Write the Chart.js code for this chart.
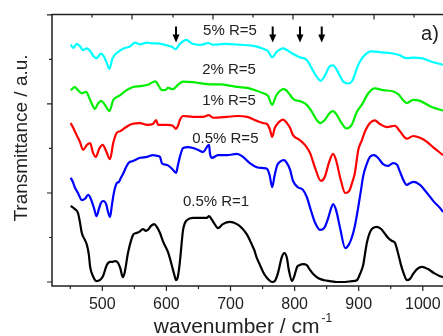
<!DOCTYPE html>
<html>
<head>
<meta charset="utf-8">
<script src="https://cdn.jsdelivr.net/npm/chart.js@4.4.1/dist/chart.umd.min.js"></script>
<style>
  html, body { margin: 0; padding: 0; background: #fff; }
  canvas { display: block; }
</style>
</head>
<body>
<canvas id="chart" width="443" height="336"></canvas>
<script>
// IR spectra, wavenumber (cm-1) vs offset transmittance (a.u.)

const blackX = [450.7,457,462,465,468,473,476,479,481,485.5,491,496,501,507,512,515,520,524.5,528,532,535,540,545,548,553,557,563.5,568,571,576,581,585,590,595,598,602.5,607,612,615,618,621,626,632,641.5,652,663,666.5,670,674,680.5,688,699,710,718,726,732,737,741,746,751,757,765,769,774,780,784,788,791,796,799,804,808,813,819,824,829,836.5,846,855,866,879,889.5,897,902,907,910,913,917.6,922,928.5,935,941,946,952,956.6,961,966,971,975,980,985,991,999,1008,1017.5,1027,1031.5];
const blackY = [1.71,1.64,1.55,1.35,1.10,0.94,0.83,0.61,0.34,0.13,0.02,0.04,0.13,0.38,0.45,0.45,0.47,0.43,0.31,0.11,0.22,0.65,0.94,1.06,1.10,1.12,1.19,1.15,1.17,1.26,1.30,1.24,1.10,0.90,0.81,0.67,0.45,0.18,0.04,0.13,0.45,1.17,1.39,1.44,1.44,1.44,1.48,1.42,1.33,1.21,1.30,1.35,1.30,1.21,1.06,0.88,0.72,0.54,0.38,0.22,0.09,0.00,0.02,0.20,0.56,0.65,0.54,0.27,0.02,0.11,0.34,0.38,0.40,0.38,0.27,0.18,0.09,0.04,0.02,0.00,0.00,0.02,0.04,0.18,0.38,0.65,0.90,1.12,1.21,1.24,1.19,1.08,0.99,0.92,0.88,0.67,0.38,0.16,0.04,0.07,0.18,0.29,0.34,0.29,0.20,0.13,0.11];

const blueX = [450.7,454,457,462,468,473,478,482,487,491,495,498,501.6,506,509,512,515,518,522.5,526,529,533,537,540.6,548,559,570,579,587,590,593,601,609,615,618,621,626,634,641.5,649,657,666.5,668,671,680.5,694.5,710,719.5,730,741,751,757,761,765,768.6,772.5,777,783.5,788,793,797.5,805,813,819,825.6,832,839.6,846,852,857,860,864.6,871,879,885,889.5,894,899.4,903.6,907,912.5,917.6,924,930,938,946,953.5,960,964,971,975,980,986,995.6,1006.5,1017.5,1027,1031.5];
const blueY = [2.34,2.25,2.13,2.00,1.84,1.87,1.96,1.87,1.66,1.48,1.66,1.78,1.82,1.75,1.57,1.46,1.73,2.00,2.22,2.25,2.34,2.45,2.58,2.67,2.72,2.79,2.81,2.85,2.83,2.81,2.67,2.63,2.54,2.45,2.63,2.81,3.01,3.03,3.01,2.97,2.92,3.08,2.88,2.79,2.85,2.85,2.88,2.81,2.67,2.58,2.56,2.54,2.40,2.13,2.38,2.61,2.70,2.74,2.67,2.52,2.27,2.13,2.07,1.91,1.60,1.33,1.17,1.21,1.42,1.66,1.75,1.62,1.21,0.76,0.85,1.01,1.26,1.69,2.07,2.38,2.65,2.81,2.85,2.79,2.65,2.61,2.67,2.63,2.49,2.25,2.18,2.22,2.25,2.18,2.00,1.80,1.66,1.57];

const redX = [450.7,454,460,465,470,476,481,485.5,490,495,500.6,506,512,517,522.5,528,535,546,559,570,579,584,587,601,610,615,618,621,626,641.5,657,666.5,673,694.5,710,726,741,751,757,761.6,765,769,774,782,788,793,797.5,808,816,824,832,841,847,854,860,864.6,872,879,885,889.5,894,899.4,905,911,917.6,925,933,944,956.6,964,975,985,995.6,1006.5,1016,1031.5];
const redY = [3.57,3.48,3.30,3.15,2.97,3.08,3.12,2.90,2.81,2.99,3.08,2.94,2.76,3.12,3.35,3.39,3.46,3.55,3.57,3.53,3.55,3.64,3.53,3.53,3.51,3.44,3.51,3.64,3.73,3.71,3.71,3.75,3.69,3.71,3.73,3.71,3.62,3.57,3.55,3.42,3.26,3.46,3.57,3.65,3.57,3.46,3.30,3.19,3.08,2.90,2.56,2.27,2.36,2.70,2.88,2.74,2.29,2.00,2.04,2.22,2.45,2.97,3.19,3.42,3.57,3.63,3.55,3.48,3.51,3.39,3.22,3.28,3.24,3.15,3.03,2.85];

const greenX = [450.7,457,462,468,474.6,481,488.6,493,498,504,511,517,523,528,538,548,559,571,583,587,593,598,602.5,610,618,626,641.5,652,668,683.6,707,726,738,751,758.5,765,771,777,782.7,788,793,798,811,819,826.7,834.5,840.4,847,855,860,866,872,881,889,897,904.7,915,925,938,954,963,969,975,985,995.6,1014,1031.5];
const greenY = [4.31,4.38,4.31,4.24,4.27,4.09,3.89,4.00,4.07,3.98,3.84,4.09,4.16,4.20,4.31,4.38,4.40,4.43,4.51,4.43,4.31,4.31,4.36,4.33,4.43,4.50,4.49,4.47,4.44,4.44,4.39,4.36,4.31,4.24,4.18,3.98,4.18,4.29,4.34,4.29,4.20,4.11,4.05,3.98,3.83,3.64,3.57,3.64,3.80,3.84,3.75,3.60,3.45,3.53,3.82,3.98,4.24,4.35,4.31,4.28,4.20,4.09,4.02,4.09,4.07,3.93,3.85];

const cyanX = [450.7,454.8,460,465,470,476,481,486,491,497.5,502.7,507,511,516,525,534,543,551,559,569,577.5,585,595,602.5,609,614,621,631,639.5,655,665,673,691,715,738,751,758.5,765,772,782,795.5,808,819,826.7,834.5,840.7,847,855,860,866,876,884,889.5,899.4,907,920,935,951.5,963,975,985,998,1014,1031.5];
const cyanY = [5.33,5.26,5.35,5.30,5.21,5.25,5.19,5.08,5.03,5.13,5.06,4.92,4.79,5.03,5.17,5.25,5.29,5.38,5.34,5.38,5.36,5.36,5.34,5.31,5.28,5.23,5.35,5.44,5.36,5.33,5.37,5.33,5.35,5.33,5.30,5.24,5.19,5.05,5.17,5.25,5.14,5.05,4.99,4.80,4.61,4.52,4.63,4.85,4.87,4.76,4.50,4.46,4.51,4.88,5.06,5.18,5.16,5.14,5.10,5.03,5.04,5.03,4.95,4.88];

const seriesNames = ['0.5% R=1', '0.5% R=5', '1% R=5', '2% R=5', '5% R=5'];
const seriesColors = ['#000000', '#0000ff', '#ff0000', '#00ee00', '#00ffff'];

// axes
const xRange = [421.5, 1031.5];
const yRange = [-0.09, 6.01];
const xLabelTicks = [500, 600, 700, 800, 900, 1000];
const xMinorTicks = [450, 550, 650, 750, 850, 950];
const yMajorTicks = [0, 2, 4, 6];
const yMinorTicks = [1, 3, 5];
// top axis ticks (second scale in the original, only tick marks shown)
const topMajorTicks = [546.3, 672.7, 797.5, 923.9];
const topMinorTicks = [483.9, 610.3, 735.1, 859.9, 986.3];
// band markers
const arrowX = [615, 765.8, 808.4, 842.3];

const FONT = "'Liberation Sans', Arial, sans-serif";

const toPts = (xs, ys) => xs.map((x, i) => ({ x: x, y: ys[i] }));
const allX = [blackX, blueX, redX, greenX, cyanX];
const allY = [blackY, blueY, redY, greenY, cyanY];

const datasets = seriesNames.map((name, i) => ({
  label: name,
  data: toPts(allX[i], allY[i]),
  borderColor: seriesColors[i],
  borderWidth: 2.2,
  pointRadius: 0,
  fill: false,
  cubicInterpolationMode: 'monotone'
}));

// labels next to the curves: [text, wavenumber, value]
const curveLabels = [
  ['5% R=5', 699.2, 5.55],
  ['2% R=5', 697.7, 4.67],
  ['1% R=5', 697.7, 3.97],
  ['0.5% R=5', 691.9, 3.13],
  ['0.5% R=1', 677.4, 1.71]
];

const decor = {
  id: 'decor',
  afterDraw(chart) {
    const { ctx, chartArea: a, scales: { x, y } } = chart;
    ctx.save();
    ctx.strokeStyle = '#222';
    ctx.fillStyle = '#222';

    // frame (left, top, bottom)
    ctx.lineWidth = 1.5;
    ctx.beginPath();
    ctx.moveTo(a.right + 2, a.top);
    ctx.lineTo(a.left, a.top);
    ctx.lineTo(a.left, a.bottom);
    ctx.lineTo(a.right + 2, a.bottom);
    ctx.stroke();

    // tick marks
    ctx.lineWidth = 1.2;
    ctx.beginPath();
    xLabelTicks.forEach(v => { const p = x.getPixelForValue(v); ctx.moveTo(p, a.bottom); ctx.lineTo(p, a.bottom + 5); });
    xMinorTicks.forEach(v => { const p = x.getPixelForValue(v); ctx.moveTo(p, a.bottom); ctx.lineTo(p, a.bottom + 3); });
    yMajorTicks.forEach(v => { const p = y.getPixelForValue(v); ctx.moveTo(a.left, p); ctx.lineTo(a.left - 5, p); });
    yMinorTicks.forEach(v => { const p = y.getPixelForValue(v); ctx.moveTo(a.left, p); ctx.lineTo(a.left - 3, p); });
    topMajorTicks.forEach(v => { const p = x.getPixelForValue(v); ctx.moveTo(p, a.top); ctx.lineTo(p, a.top + 5); });
    topMinorTicks.forEach(v => { const p = x.getPixelForValue(v); ctx.moveTo(p, a.top); ctx.lineTo(p, a.top + 3); });
    ctx.stroke();

    // x tick labels
    ctx.font = '16px ' + FONT;
    ctx.textAlign = 'center';
    ctx.textBaseline = 'alphabetic';
    xLabelTicks.forEach(v => ctx.fillText(String(v), x.getPixelForValue(v), a.bottom + 23));

    // x title with superscript
    ctx.font = '21px ' + FONT;
    const main = 'wavenumber / cm';
    const w1 = ctx.measureText(main).width;
    ctx.font = '12px ' + FONT;
    const w2 = ctx.measureText('-1').width;
    const start = a.left + 191 - (w1 + 2 + w2) / 2;
    ctx.textAlign = 'left';
    ctx.font = '21px ' + FONT;
    ctx.fillText(main, start, a.bottom + 47);
    ctx.font = '12px ' + FONT;
    ctx.fillText('-1', start + w1 + 2, a.bottom + 36);

    // y title
    ctx.save();
    ctx.translate(27, 138);
    ctx.rotate(-Math.PI / 2);
    ctx.textAlign = 'center';
    ctx.font = '19px ' + FONT;
    ctx.fillText('Transmittance / a.u.', 0, 0);
    ctx.restore();

    // curve labels
    ctx.font = '15px ' + FONT;
    ctx.textAlign = 'center';
    curveLabels.forEach(([t, wx, wy]) => ctx.fillText(t, x.getPixelForValue(wx), y.getPixelForValue(wy)));

    // panel tag
    ctx.font = '20px ' + FONT;
    ctx.fillText('a)', x.getPixelForValue(1011.2), y.getPixelForValue(5.44));

    // arrows
    ctx.fillStyle = '#000';
    ctx.strokeStyle = '#000';
    const yTop = y.getPixelForValue(5.74);
    const yTip = y.getPixelForValue(5.38);
    arrowX.forEach(v => {
      const p = x.getPixelForValue(v);
      ctx.lineWidth = 2;
      ctx.beginPath();
      ctx.moveTo(p, yTop);
      ctx.lineTo(p, yTip - 6);
      ctx.stroke();
      ctx.beginPath();
      ctx.moveTo(p - 3.5, yTip - 8);
      ctx.lineTo(p + 3.5, yTip - 8);
      ctx.lineTo(p, yTip);
      ctx.closePath();
      ctx.fill();
    });

    ctx.restore();
  }
};

new Chart(document.getElementById('chart'), {
  type: 'line',
  data: { datasets: datasets },
  options: {
    responsive: false,
    animation: false,
    devicePixelRatio: 1,
    layout: { padding: { left: 52, right: 0, top: 14.5, bottom: 50 } },
    plugins: { legend: { display: false }, tooltip: { enabled: false } },
    scales: {
      x: { type: 'linear', min: xRange[0], max: xRange[1], display: false },
      y: { type: 'linear', min: yRange[0], max: yRange[1], display: false }
    }
  },
  plugins: [decor]
});
</script>
</body>
</html>
